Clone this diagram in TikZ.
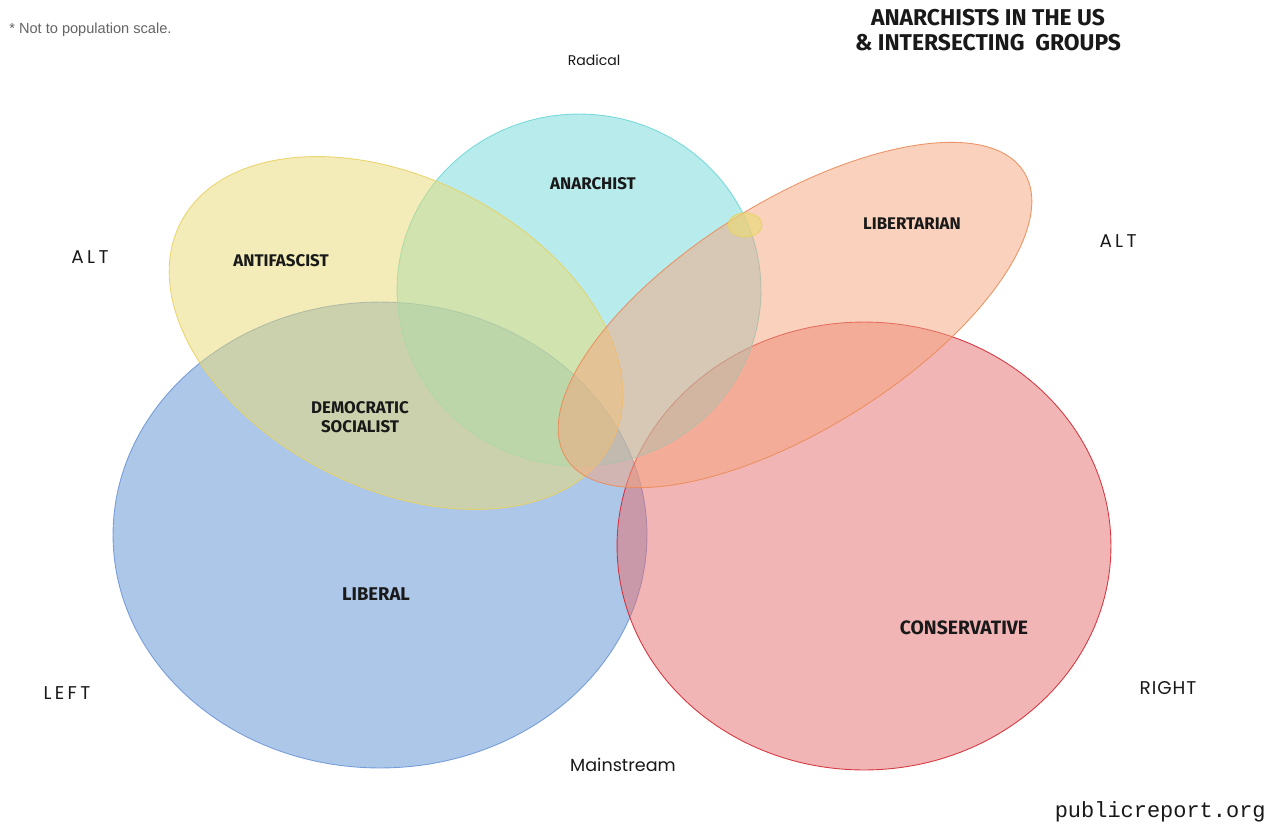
\documentclass[tikz,border=0pt]{standalone}
\usepackage{fontspec}
\setmainfont{Liberation Sans}
\newfontfamily\comicfont{Fira Sans}
\newfontfamily\technofont{Poppins}
\newfontfamily\technowide[LetterSpace=18]{Poppins}
\newfontfamily\technomid[LetterSpace=5]{Poppins}
\newfontfamily\monofont{Liberation Mono}
\definecolor{bluefill}{RGB}{91,145,211}
\definecolor{bluedraw}{RGB}{110,150,215}
\definecolor{redfill}{RGB}{231,109,109}
\definecolor{reddraw}{RGB}{210,40,50}
\definecolor{cyanfill}{RGB}{115,219,219}
\definecolor{cyandraw}{RGB}{110,215,215}
\definecolor{yellowfill}{RGB}{235,219,115}
\definecolor{yellowdraw}{RGB}{232,210,100}
\definecolor{orangefill}{RGB}{245,165,125}
\definecolor{orangedraw}{RGB}{235,140,90}
\definecolor{txt}{RGB}{25,25,25}
\begin{document}
\begin{tikzpicture}[x=0.02cm,y=-0.02cm,
  setshape/.style={fill opacity=0.5,draw opacity=0.9,line width=0.5pt},
  grouplabel/.style={font=\comicfont\bfseries\fontsize{9.6pt}{11pt}\selectfont,text=txt,align=center,inner sep=0pt},
  axislabel/.style={font=\technowide\fontsize{10.5pt}{11pt}\selectfont,text=txt,inner sep=0pt}]
\path[use as bounding box,fill=white] (0,0) rectangle (1280,825);
% centers
\coordinate (cblue) at (380,535);
\coordinate (cred) at (864,546);
\coordinate (ccyan) at (579,290);
\coordinate (cyel) at (396,333);
\coordinate (corg) at (795,315);
\coordinate (csmall) at (745,225);
% shapes
\draw[setshape,fill=bluefill,draw=bluedraw] (cblue) ellipse [x radius=5.34cm,y radius=4.66cm];
\draw[setshape,fill=redfill,draw=reddraw] (cred) ellipse [x radius=4.94cm,y radius=4.48cm];
\draw[setshape,fill=cyanfill,draw=cyandraw] (ccyan) ellipse [x radius=3.64cm,y radius=3.52cm];
\draw[setshape,fill=yellowfill,draw=yellowdraw,rotate around={-27:(cyel)}] (cyel) ellipse [x radius=4.84cm,y radius=3.10cm];
\draw[setshape,fill=orangefill,draw=orangedraw,rotate around={32:(corg)}] (corg) ellipse [x radius=5.40cm,y radius=2.28cm];
\draw[setshape,fill=yellowfill,draw=yellowdraw,fill opacity=0.6] (csmall) ellipse [x radius=0.34cm,y radius=0.24cm];
% group labels
\node[grouplabel] (anarchist) at (593,184) {ANARCHIST};
\node[grouplabel] (antifa) at (281,261) {ANTIFASCIST};
\node[grouplabel] (libert) at (912,224) {LIBERTARIAN};
\node[grouplabel] (demsoc) at (360,417) {DEMOCRATIC\\SOCIALIST};
\node[grouplabel,font=\comicfont\bfseries\fontsize{10.5pt}{12pt}\selectfont] (liberal) at (376,594) {LIBERAL};
\node[grouplabel,font=\comicfont\bfseries\fontsize{11pt}{12pt}\selectfont] (conserv) at (964,628) {CONSERVATIVE};
% axis labels
\node[axislabel,font=\technofont\fontsize{8pt}{10pt}\selectfont] (radical) at (594,60) {Radical};
\node[axislabel] (altl) at (90,257) {ALT};
\node[axislabel] (altr) at (1118,241) {ALT};
\node[axislabel] (left) at (67,693) {LEFT};
\node[axislabel,font=\technomid\fontsize{10.5pt}{11pt}\selectfont] (right) at (1168,688) {RIGHT};
\node[axislabel,font=\technofont\fontsize{10pt}{11pt}\selectfont] (mainstream) at (623,765) {Mainstream};
% title and notes
\node[font=\comicfont\bfseries\fontsize{13pt}{14pt}\selectfont,text=txt,align=center,inner sep=0pt] (title) at (988,30) {ANARCHISTS IN THE US\\\& INTERSECTING\ \ GROUPS};
\node[font=\fontsize{8.3pt}{10pt}\selectfont,text={rgb,255:red,100;green,100;blue,100},anchor=west,inner sep=0pt] (note) at (9,30) {* Not to population scale.};
\node[font=\monofont\fontsize{12.5pt}{14pt}\selectfont,text=txt,anchor=east,inner sep=0pt] (site) at (1266,812) {publicreport.org};
\end{tikzpicture}
\end{document}
